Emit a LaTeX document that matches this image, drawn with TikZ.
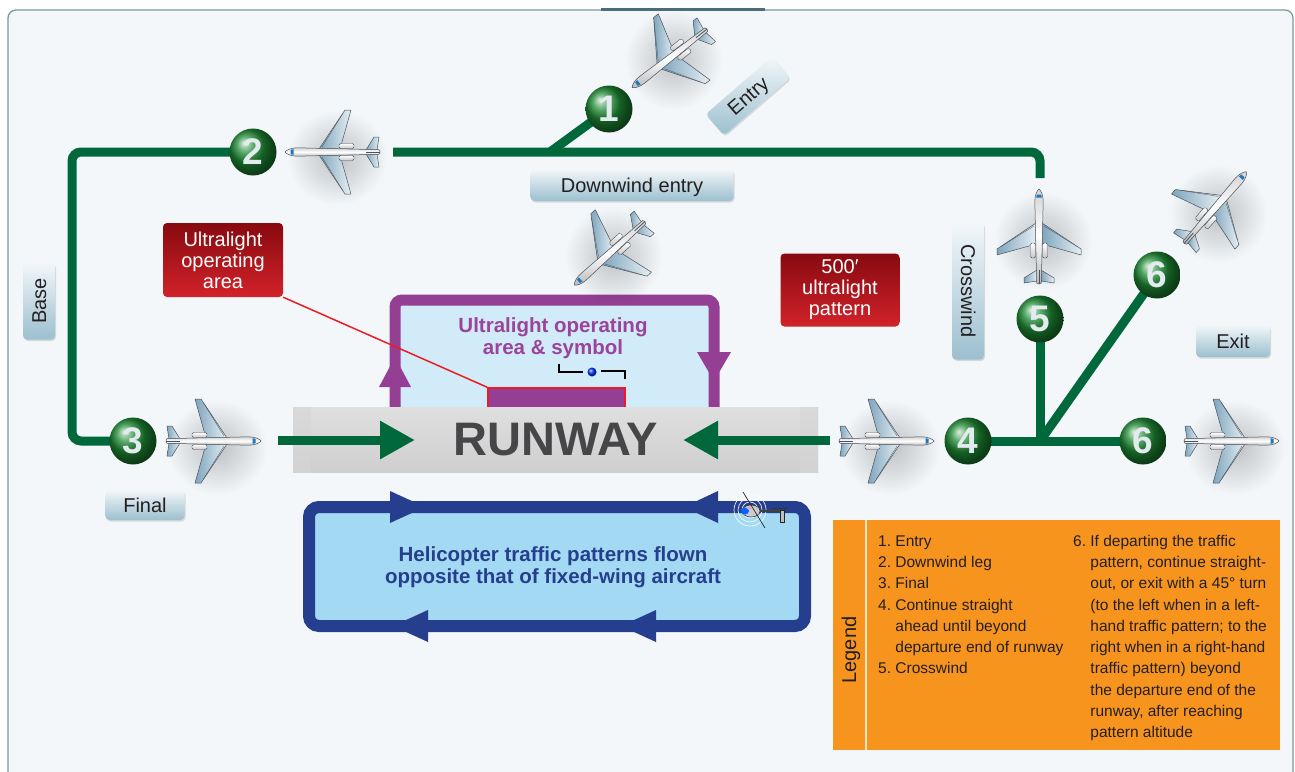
\documentclass[tikz,border=0pt]{standalone}
\usepackage{fontspec}
\setmainfont{Liberation Sans}
\usetikzlibrary{arrows.meta,shadows,fadings}

\definecolor{bgpanel}{HTML}{F3F7FA}
\definecolor{framec}{HTML}{7C98A2}
\definecolor{framebar}{HTML}{4B6D79}
\definecolor{pathgreen}{HTML}{00683B}
\definecolor{ballgreen}{HTML}{1E8A34}
\definecolor{digitc}{HTML}{E3EBEF}
\definecolor{ulpurple}{HTML}{943F94}
\definecolor{ultext}{HTML}{9A449B}
\definecolor{ulfill}{HTML}{D1EBF8}
\definecolor{warnred}{HTML}{ED1C24}
\definecolor{redtop}{HTML}{870A0F}
\definecolor{redbot}{HTML}{D2222A}
\definecolor{heliblue}{HTML}{253E8E}
\definecolor{helifill}{HTML}{A3D9F2}
\definecolor{tagtop}{HTML}{F2F7F9}
\definecolor{tagbot}{HTML}{9CBFCF}
\definecolor{ink}{HTML}{231F20}
\definecolor{legendorange}{HTML}{F7941D}
\definecolor{runwayink}{HTML}{464648}
\definecolor{wingdark}{HTML}{7FA5BD}
\definecolor{winglight}{HTML}{E6EFF4}
\definecolor{jetline}{HTML}{4A525C}
\definecolor{cockpit}{HTML}{1C78BE}

\newcommand\tagfont{\fontsize{20}{21}\selectfont}
\newcommand\boldtitlefont{\fontsize{20.5}{22}\selectfont\bfseries}
\newcommand\legfont{\fontsize{15.5}{21.3}\selectfont}

\pgfdeclarelayer{back}
\pgfdeclarelayer{lines}
\pgfsetlayers{back,lines,main}

\tikzfading[name=softdisk, inner color=transparent!0, outer color=transparent!100]

\tikzset{
  greenpath/.style={draw=pathgreen, line width=9pt},
  numball/.style={circle, minimum size=47pt, inner sep=0pt, ball color=ballgreen,
    text=digitc, font=\fontsize{37}{37}\selectfont\bfseries},
  tag/.style={rounded corners=4pt, top color=tagtop, bottom color=tagbot,
    drop shadow={opacity=.25, shadow xshift=1pt, shadow yshift=-1.5pt},
    text=ink, font=\tagfont, inner sep=0pt, minimum height=32pt,
    text height=16pt, text depth=2pt},
  redtag/.style={rounded corners=4pt, top color=redtop, bottom color=redbot,
    text=white, font=\tagfont, align=center, inner sep=0pt},
  softshadow/.style={black, opacity=.22, path fading=softdisk},
  jet/.pic={
    \foreach \s in {1,-1}{
      \begin{scope}[yscale=\s]
        % main wing
        \shade[left color=wingdark, right color=winglight, draw=jetline,
               line width=.5pt, line join=round]
          (14,3) -- (-12,42) -- (-18,42) -- (-7,3) -- cycle;
        \draw[jetline, line width=.3pt] (-9.5,38) -- (11,5);
        % tailplane
        \shade[left color=wingdark, right color=winglight, draw=jetline,
               line width=.5pt, line join=round]
          (-33,2) -- (-41,15) -- (-46,15) -- (-44,2) -- cycle;
        % engine pod
        \shade[top color=white, bottom color=gray!45, draw=jetline,
               line width=.4pt, rounded corners=1.5pt]
          (-21,3.5) rectangle (-6,8.5);
      \end{scope}
    }
    % fuselage
    \shade[top color=gray!35, bottom color=gray!55, middle color=white,
           draw=jetline, line width=.5pt]
      (-47,0) -- (-46,-2.3) -- (36,-4.2) .. controls (42,-4.2) and (47,-1.8) .. (48,0)
      .. controls (47,1.8) and (42,4.2) .. (36,4.2) -- (-46,2.3) -- cycle;
    \fill[cockpit] (39.5,-2.8) -- (42.5,-2.1) -- (42.5,2.1) -- (39.5,2.8) -- cycle;
    \draw[jetline, line width=.8pt] (-47,0) -- (-33,0);
  }
}

\begin{document}
\begin{tikzpicture}[x=1pt, y=-1pt]
\useasboundingbox (0,0) rectangle (1295,771);
\clip (0,0) rectangle (1295,771);

% panel and frame
\begin{pgfonlayer}{back}
  \fill[white] (0,0) rectangle (1295,771);
  \draw[framec, line width=1.3pt, fill=bgpanel, rounded corners=8pt] (8,10) rectangle (1293,800);
  \draw[framebar, line width=3pt] (601,9) -- (765,9);
\end{pgfonlayer}

% numbered waypoints
\node[numball] (c1) at (609,109) {1};
\node[numball] (c2) at (253,152) {2};
\node[numball] (c3) at (133,441) {3};
\node[numball] (c4) at (968,441) {4};
\node[numball] (c5) at (1040,319) {5};
\node[numball] (c6a) at (1157,275) {6};
\node[numball] (c6b) at (1143,441) {6};

% traffic pattern legs
\coordinate (baseTop) at (72,152);
\coordinate (baseBot) at (72,441);
\coordinate (dwStart) at (393,152);
\coordinate (dwTurn) at (1040,152);
\coordinate (dwEnd) at (1040,178);
\coordinate (entryJoin) at (550,152);
\coordinate (xwJoin) at (1040,441);
\begin{pgfonlayer}{lines}
  \draw[greenpath, rounded corners=9pt] (c2.center) -- (baseTop) -- (baseBot) -- (c3.center);
  \draw[greenpath, rounded corners=9pt] (dwStart) -- (dwTurn) -- (dwEnd);
  \draw[greenpath] (entryJoin) -- (c1.center);
  \draw[greenpath] (c5.center) -- (xwJoin);
  \draw[greenpath] (c4.center) -- (c6b.center);
  \draw[greenpath] (xwJoin) -- (c6a.center);
\end{pgfonlayer}

% ultralight operating area
\draw[ulpurple, line width=11pt, fill=ulfill, rounded corners=7pt] (395,300) rectangle (714,430);
\fill[ulpurple] (379,387) -- (395,357) -- (411,387) -- cycle;
\fill[ulpurple] (697,352) -- (714,381) -- (731,352) -- cycle;
\node[text=ultext, font=\boldtitlefont, align=center] (ultitle) at (553,338)
  {Ultralight operating\\area \& symbol};
\draw[black, line width=1.3pt] (559,364) -- (559,372) -- (583,372);
\draw[black, line width=1.3pt] (601,371) -- (625,371) -- (625,379);
\shade[ball color=blue!80!cyan] (592,372) circle (4.5);
\node[fill=ulpurple, draw=warnred, line width=1.5pt, minimum width=137pt,
      minimum height=34pt, inner sep=0pt] (ulsym) at (556.5,405) {};

% runway
\shade[top color=gray!25, middle color=gray!68, bottom color=gray!38] (293,407) rectangle (818,472);
\shade[top color=gray!30, middle color=gray!50, bottom color=gray!35] (293,407) rectangle (311,472);
\shade[top color=gray!30, middle color=gray!50, bottom color=gray!35] (800,407) rectangle (818,472);
\node[text=runwayink, font=\fontsize{47}{47}\selectfont\bfseries, inner sep=0pt] (runway) at (556,440) {RUNWAY};
\coordinate (landW) at (278,440);
\coordinate (tipW) at (415,440);
\coordinate (landE) at (830,440);
\coordinate (tipE) at (683,440);
\draw[greenpath, -{Triangle[length=35pt, width=36pt]}] (landW) -- (tipW);
\draw[greenpath, -{Triangle[length=35pt, width=36pt]}] (landE) -- (tipE);

% red labels
\node[redtag, minimum width=120pt, minimum height=74pt] (ullabel) at (223,260)
  {Ultralight\\operating\\area};
\node[redtag, minimum width=119pt, minimum height=73pt] (patlabel) at (840,290)
  {500′\\ultralight\\pattern};
\draw[warnred, line width=1.5pt] (ullabel.south east) -- (ulsym.north west);

% helicopter pattern
\draw[heliblue, line width=12pt, fill=helifill, rounded corners=10pt] (309,507) rectangle (805,626);
\fill[heliblue] (390,491) -- (425,507) -- (390,523) -- cycle;
\fill[heliblue] (718,491) -- (684,507) -- (718,523) -- cycle;
\fill[heliblue] (428,610) -- (393,626) -- (428,642) -- cycle;
\fill[heliblue] (656,610) -- (621,626) -- (656,642) -- cycle;
\node[text=heliblue, font=\boldtitlefont, align=center] (helititle) at (553,567)
  {Helicopter traffic patterns flown\\opposite that of fixed-wing aircraft};
% helicopter
\draw[white, line width=.7pt, opacity=.9] (750,510) circle (16) (750,510) circle (12) (750,510) circle (8);
\draw[gray!50!black, line width=1.6pt] (758,511) -- (781,511);
\draw[gray!40!black, line width=.6pt] (772,508) -- (787,508);
\filldraw[fill=gray!50, draw=gray!30!black, line width=.4pt] (780,510) rectangle (784,522);
\filldraw[fill=gray!40, draw=gray!30!black, line width=.5pt] (751,511) ellipse (9 and 6);
\fill[blue!60!cyan] (745,511) ellipse (4 and 3.5);
\fill[magenta!40] (749,508) ellipse (2.5 and 1.5);
\draw[gray!30!black, line width=.7pt] (743,492) -- (765,528);

% aircraft
\fill[softshadow] (167,400) rectangle (267,495);
\pic[rotate=0] at (213,441) {jet};
\fill[softshadow] (287,110) rectangle (387,205);
\pic[rotate=180] at (333,152) {jet};
\fill[softshadow] (625,10) rectangle (722,110);
\pic[rotate=218] at (670,58) {jet};
\fill[softshadow] (565,207) rectangle (662,305);
\pic[rotate=222] at (610,253) {jet};
\fill[softshadow] (994,192) rectangle (1092,290);
\pic[rotate=90] at (1039,237) {jet};
\fill[softshadow] (1170,165) rectangle (1267,263);
\pic[rotate=49] at (1215,208) {jet};
\fill[softshadow] (840,400) rectangle (940,495);
\pic[rotate=0] at (886,441) {jet};
\fill[softshadow] (1185,400) rectangle (1285,495);
\pic[rotate=0] at (1231,441) {jet};

% leg labels
\node[tag, minimum width=203pt] (dwlabel) at (632,185) {Downwind entry};
\node[tag, minimum width=88pt, minimum height=28pt, rotate=41] (entrylabel) at (748,96) {Entry};
\node[tag, minimum width=77pt, rotate=90] (baselabel) at (39,301) {Base};
\node[tag, minimum width=137pt, rotate=-90] (xwlabel) at (968,291) {Crosswind};
\node[tag, minimum width=74pt] (exitlabel) at (1233,341) {Exit};
\node[tag, minimum width=79pt, minimum height=30pt] (finallabel) at (145,505) {Final};

% legend
\node[fill=legendorange, minimum width=447pt, minimum height=230pt, anchor=north west,
      inner sep=0pt] (legendbox) at (833,520) {};
\draw[white!75!legendorange, line width=1.5pt] (866,520) -- (866,750);
\node[rotate=90, text=ink, font=\tagfont] (legendtitle) at (851,650) {Legend};
\node[anchor=north west, inner sep=0pt, text=ink, font=\legfont] (legleft) at (878,531)
  {\begin{tabular}{@{}l@{\ }l@{}}
   1. & Entry\\
   2. & Downwind leg\\
   3. & Final\\
   4. & Continue straight\\
      & ahead until beyond\\
      & departure end of runway\\
   5. & Crosswind
   \end{tabular}};
\node[anchor=north west, inner sep=0pt, text=ink, font=\legfont] (legright) at (1073,531)
  {\begin{tabular}{@{}l@{\ }l@{}}
   6. & If departing the traffic\\
      & pattern, continue straight-\\
      & out, or exit with a 45° turn\\
      & (to the left when in a left-\\
      & hand traffic pattern; to the\\
      & right when in a right-hand\\
      & traffic pattern) beyond\\
      & the departure end of the\\
      & runway, after reaching\\
      & pattern altitude
   \end{tabular}};
\end{tikzpicture}
\end{document}
